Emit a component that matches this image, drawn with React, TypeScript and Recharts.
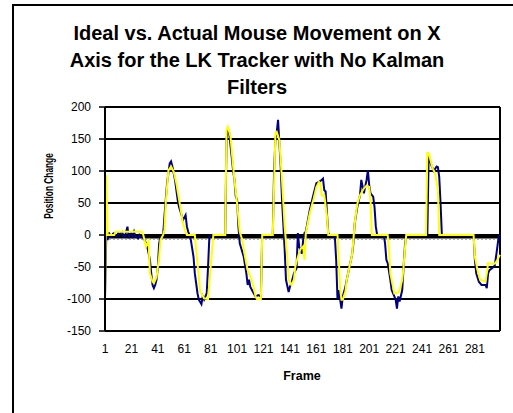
import { LineChart, Line, XAxis, YAxis, CartesianGrid, ReferenceLine } from 'recharts';

// [frame, position change]
const idealPoints: [number, number][] = [
  [1, -100], [2, 94], [3, 0], [8, 0], [9, 5], [29, 5], [30, 0], [32, -18], [34, -10], [35, -60],
  [37, -73], [38, -75], [40, -66], [42, -34], [43, -8], [45, 0], [46, 8], [47, 50], [49, 101], [51, 107],
  [53, 99], [55, 81], [58, 44], [60, 18], [62, 5], [63, 0], [69, 0], [70, -23], [72, -65], [73, -88],
  [76, -99], [79, -100], [81, -50], [83, 0], [92, 0], [93, 164], [94, 169], [96, 154], [98, 107], [99, 86],
  [101, 49], [103, 5], [105, -8], [107, -34], [109, -55], [112, -70], [114, -86], [115, -96], [116, -100], [119, -100],
  [120, 0], [128, 0], [130, 159], [131, 161], [133, 148], [135, 86], [137, 13], [139, -34], [140, -70], [142, -78],
  [144, -70], [145, -50], [147, -34], [149, -22], [151, -18], [152, -39], [153, 3], [156, 34], [159, 57], [161, 75],
  [163, 83], [164, 81], [165, 62], [167, 62], [169, 29], [170, 0], [177, 0], [178, -40], [179, -85], [180, -101],
  [181, -101], [183, -88], [184, -70], [186, -50], [188, -31], [189, -8], [190, 18], [192, 49], [194, 62], [197, 73],
  [199, 77], [201, 75], [202, 55], [203, 0], [215, 0], [216, -23], [217, -60], [219, -81], [220, -91], [223, -90],
  [224, -86], [226, -70], [227, -50], [228, -23], [229, 0], [244, 0], [245, 128], [246, 128], [248, 112], [249, 104],
  [251, 96], [253, 70], [254, 0], [280, 0], [281, -34], [283, -55], [285, -70], [289, -73], [290, -60], [291, -44],
  [294, -45], [296, -45], [298, -39], [300, -31],
];

const actualPoints: [number, number][] = [
  [1, -100], [2, 3], [3, -8], [4, 4], [5, -3], [6, -3], [7, 2], [8, 3], [9, 0], [10, -2],
  [11, 3], [12, 0], [13, 4], [14, 5], [15, -2], [16, -3], [17, 5], [18, 13], [19, -5], [20, 2],
  [21, 3], [22, -2], [23, 5], [24, -2], [25, -3], [26, -5], [27, 0], [28, -3], [29, -3], [30, -5],
  [31, -8], [33, -18], [35, -39], [36, -60], [37, -78], [38, -83], [39, -78], [40, -70], [41, -50], [42, -13],
  [43, -3], [45, 0], [46, 29], [48, 81], [50, 112], [51, 115], [52, 107], [54, 86], [56, 55], [57, 44],
  [59, 31], [60, 23], [62, 31], [63, 13], [64, 5], [65, 0], [66, -8], [68, -34], [69, -60], [71, -91],
  [72, -101], [74, -108], [75, -96], [76, -101], [78, -91], [79, -50], [80, -3], [81, 0], [92, 0], [93, 150],
  [94, 166], [95, 160], [97, 120], [98, 100], [99, 86], [100, 60], [101, 55], [102, 13], [103, -13], [106, -34],
  [108, -60], [109, -78], [110, -70], [111, -81], [113, -89], [115, -96], [117, -94], [119, -96], [120, 0], [128, 0],
  [129, 100], [130, 150], [131, 160], [132, 180], [134, 107], [135, 55], [137, -23], [138, -70], [140, -89], [141, -81],
  [142, -76], [144, -60], [146, -52], [147, 3], [148, -18], [150, -29], [151, -8], [152, 3], [153, 5], [156, 39],
  [159, 65], [161, 81], [163, 83], [165, 86], [166, 88], [167, 70], [168, 68], [169, 34], [170, 3], [171, 0],
  [175, -3], [176, -39], [177, -101], [178, -86], [179, -101], [180, -115], [181, -96], [183, -81], [184, -70], [186, -50],
  [188, -31], [189, -13], [190, 18], [192, 44], [194, 62], [195, 86], [196, 76], [197, 65], [198, 76], [199, 86],
  [200, 101], [201, 78], [202, 65], [204, 60], [205, 44], [206, 13], [207, 0], [212, 0], [213, -13], [214, -39],
  [215, -44], [217, -70], [218, -86], [219, -91], [221, -101], [222, -115], [223, -96], [224, -104], [226, -86], [227, -50],
  [228, -18], [229, 0], [245, 0], [246, 125], [248, 109], [250, 100], [252, 107], [253, 106], [254, 91], [255, 50],
  [256, 0], [280, 0], [281, -39], [282, -60], [284, -73], [286, -78], [289, -78], [290, -83], [291, -60], [292, -55],
  [294, -52], [296, -48], [297, -34], [299, -3], [300, 0],
];

const frameTicks = [1, 21, 41, 61, 81, 101, 121, 141, 161, 181, 201, 221, 241, 261, 281];
const positionTicks = [-150, -100, -50, 0, 50, 100, 150, 200];

const titleLines = ['Ideal vs. Actual Mouse Movement on X', 'Axis for the LK Tracker with No Kalman', 'Filters'];

const font = '"Liberation Sans", Arial, sans-serif';

const idealData = idealPoints.map(([frame, value]) => ({ frame, value }));
const actualData = actualPoints.map(([frame, value]) => ({ frame, value }));

export default function App() {
  return (
    <div
      style={{
        position: 'absolute',
        left: 0,
        top: 0,
        width: 513,
        height: 413,
        overflow: 'hidden',
        background: '#fff',
        fontFamily: font,
      }}
    >
      {/* chart frame, cut off on the right and bottom */}
      <div
        style={{
          position: 'absolute',
          left: 12,
          top: 4,
          width: 600,
          height: 500,
          border: '2px solid #000',
        }}
      />
      <div
        style={{
          position: 'absolute',
          left: 27,
          top: 20,
          width: 460,
          textAlign: 'center',
          fontSize: 20,
          fontWeight: 'bold',
          lineHeight: '27px',
          color: '#000',
        }}
      >
        {titleLines.map((t) => (
          <div key={t}>{t}</div>
        ))}
      </div>
      {/* the y title is squeezed along its length in the original */}
      <div
        style={{
          position: 'absolute',
          left: 48,
          top: 186,
          transform: 'translate(-50%, -50%) rotate(-90deg) scaleX(0.64)',
          whiteSpace: 'nowrap',
          fontSize: 13,
          fontWeight: 'bold',
        }}
      >
        Position Change
      </div>
      <div
        style={{
          position: 'absolute',
          left: 302,
          top: 376,
          transform: 'translate(-50%, -50%)',
          fontSize: 12.5,
          fontWeight: 'bold',
        }}
      >
        Frame
      </div>
      <LineChart
        width={513}
        height={413}
        margin={{ top: 107, right: 13, bottom: 52, left: 45 }}
        style={{ position: 'absolute', left: 0, top: 0 }}
      >
        <CartesianGrid vertical={false} stroke="#000" strokeWidth={2} />
        <XAxis
          type="number"
          dataKey="frame"
          domain={[1, 300]}
          ticks={frameTicks}
          interval={0}
          height={30}
          tickLine={false}
          tickSize={6}
          tickMargin={7}
          axisLine={{ stroke: '#000', strokeWidth: 2 }}
          tick={{ fill: '#000', fontSize: 12, fontFamily: font }}
        />
        <YAxis
          type="number"
          domain={[-150, 200]}
          ticks={positionTicks}
          interval={0}
          width={60}
          tickSize={6}
          tickMargin={8}
          axisLine={{ stroke: '#000', strokeWidth: 2 }}
          tickLine={{ stroke: '#000', strokeWidth: 1.5 }}
          tick={{ fill: '#000', fontSize: 12, fontFamily: font }}
        />
        <ReferenceLine x={300} stroke="#000" strokeWidth={2} />
        <ReferenceLine y={-2.5} stroke="#000" strokeWidth={4} />
        <ReferenceLine y={-6.5} stroke="#888" strokeWidth={1} strokeDasharray="2 2" />
        <Line
          data={actualData}
          dataKey="value"
          type="linear"
          stroke="#000080"
          strokeWidth={2}
          dot={false}
          isAnimationActive={false}
        />
        <Line
          data={idealData}
          dataKey="value"
          type="linear"
          stroke="#ffff00"
          strokeWidth={2}
          dot={false}
          isAnimationActive={false}
        />
      </LineChart>
    </div>
  );
}
